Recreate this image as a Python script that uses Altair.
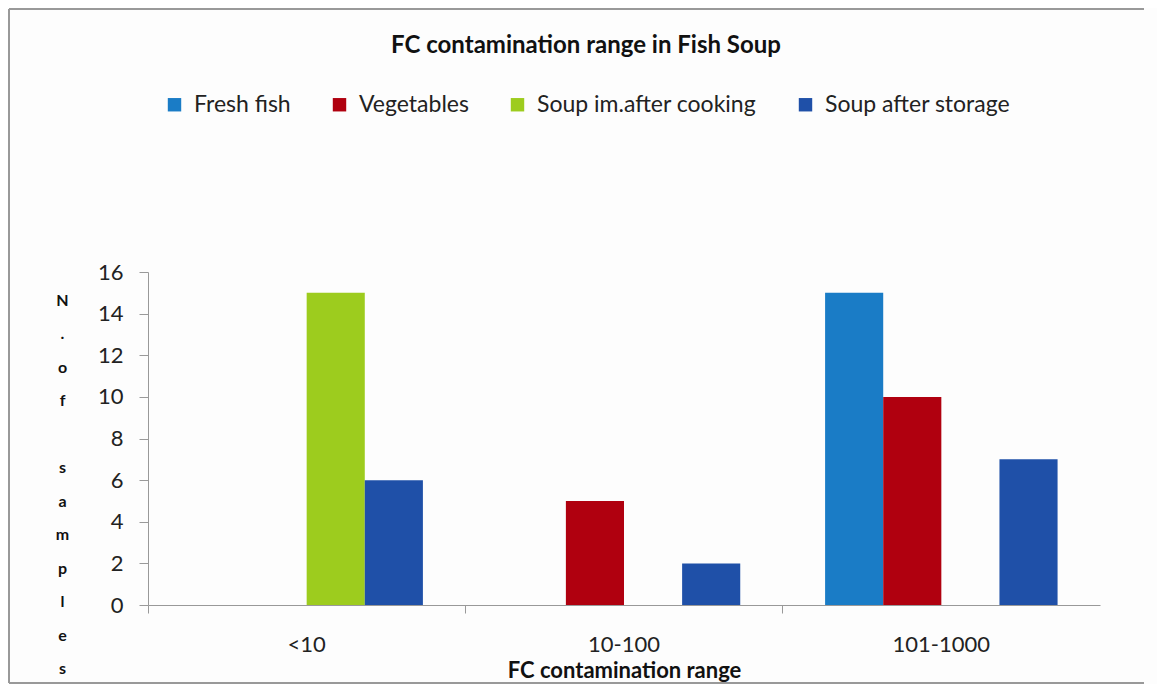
import altair as alt
import pandas as pd

ranges = ["<10", "10-100", "101-1000"]
series = ["Fresh fish", "Vegetables", "Soup im.after cooking", "Soup after storage"]
colors = ["#1a7cc6", "#b0000f", "#9dcc1e", "#1f50a8"]
values = {
    "Fresh fish": [0, 0, 15],
    "Vegetables": [0, 5, 10],
    "Soup im.after cooking": [15, 0, 0],
    "Soup after storage": [6, 2, 7],
}
y_ticks = [0, 2, 4, 6, 8, 10, 12, 14, 16]
y_title = ["N", ".", "o", "f", "\u200b", "s", "a", "m", "p", "l", "e", "s"]

rows = []
for s in series:
    for r, v in zip(ranges, values[s]):
        rows.append({"range": r, "series": s, "value": v})
df = pd.DataFrame(rows)

FONT = "Lato"

bars = alt.Chart(df).mark_bar().encode(
    x=alt.X("range:N", sort=ranges,
            scale=alt.Scale(paddingInner=0, paddingOuter=0),
            axis=alt.Axis(title="FC contamination range", labelAngle=0,
                          bandPosition=0, tickSize=8, labelPadding=21,
                          labelFontSize=22, labelColor="#222", labelFont=FONT,
                          titleFont=FONT, titleFontSize=22, titleFontWeight="bold",
                          titleColor="#111", titlePadding=5,
                          domainColor="#999", tickColor="#999", grid=False)),
    xOffset=alt.XOffset("series:N", sort=series,
                        scale=alt.Scale(paddingOuter=0.73, paddingInner=0)),
    y=alt.Y("value:Q", scale=alt.Scale(domain=[0, 16]),
            axis=alt.Axis(values=y_ticks, title=y_title, titleAngle=0,
                          titleX=-86, titleY=20, titleBaseline="top",
                          titleAlign="center", titleLineHeight=33.5,
                          titleFont=FONT, titleFontSize=16, titleFontWeight="bold",
                          titleColor="#111",
                          tickSize=9, labelPadding=16, labelFontSize=22,
                          labelFont=FONT, labelColor="#222",
                          domainColor="#999", tickColor="#999", grid=False)),
    color=alt.Color("series:N", sort=series,
                    scale=alt.Scale(domain=series, range=colors),
                    legend=alt.Legend(title=None, orient="none", direction="horizontal",
                                      legendX=15, legendY=-179,
                                      symbolType="square",
                                      symbolSize=180, symbolStrokeWidth=0,
                                      labelFont=FONT, labelFontSize=23,
                                      labelColor="#222", columnPadding=37,
                                      labelLimit=400,
                                      symbolOffset=0, labelOffset=8)),
)

one = pd.DataFrame({"a": [0]})
border = dict(stroke="#999999", strokeWidth=2, clip=False)
top_line = alt.Chart(one).mark_rule(**border).encode(
    x=alt.value(-139), x2=alt.value(996), y=alt.value(-263))
left_line = alt.Chart(one).mark_rule(**border).encode(
    x=alt.value(-139), y=alt.value(-263), y2=alt.value(411))
bottom_line = alt.Chart(one).mark_rule(**border).encode(
    x=alt.value(-139), x2=alt.value(996), y=alt.value(411))

chart = alt.layer(top_line, left_line, bottom_line, bars).properties(
    width=952, height=333,
    title=alt.TitleParams("FC contamination range in Fish Soup", font=FONT,
                          fontSize=24, fontWeight="bold", color="#111",
                          anchor="middle", frame="group", dx=-38, offset=-50),
    autosize=alt.AutoSizeParams(type="none"),
    padding={"left": 140, "top": 264, "right": 57, "bottom": 79},
    background="#fdfdfd",
).configure_view(stroke=None)

chart.save("out.html", embed_options={"renderer": "svg", "actions": False})
